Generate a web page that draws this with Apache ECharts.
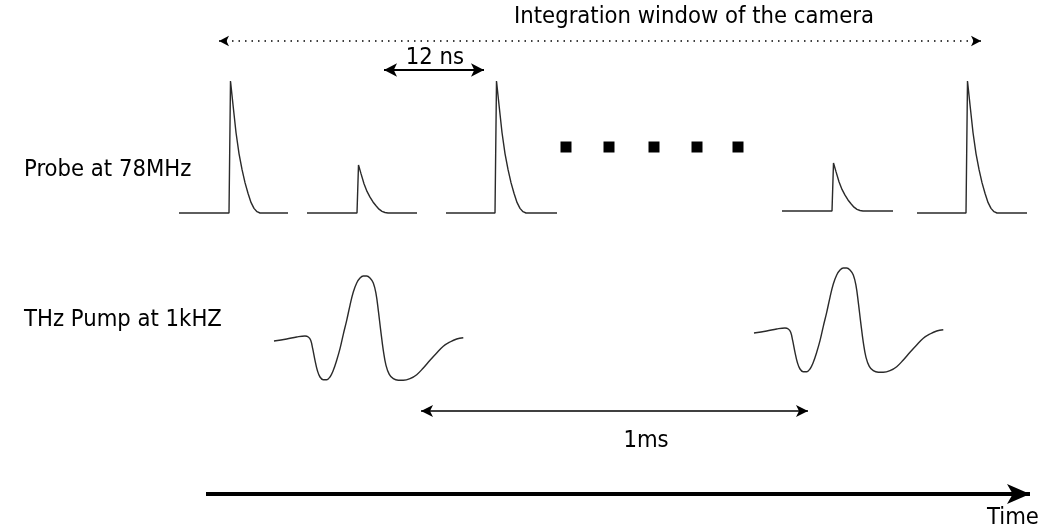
<!DOCTYPE html>
<html>
<head>
<meta charset="utf-8">
<script src="https://cdn.jsdelivr.net/npm/echarts@6/dist/echarts.min.js"></script>
<style>
html,body{margin:0;padding:0;background:#fff;}
#chart{width:1041px;height:531px;}
</style>
</head>
<body>
<div id="chart"></div>
<script>
// ---- data (diagram time units on x, amplitude units on y) ----
const probeRise  = [229, 357, 495, 832, 966];
const probeAmp   = [132, 48, 132, 48, 132];
const probeBase  = [318, 318, 318, 320, 318];
const probeFrom  = [179, 307, 446, 782, 917];
const probeTo    = [288, 417, 557, 893, 1027];
const pulseShape = [[0,0],[1.5,1],[4,0.82],[7,0.61],[10,0.45],[13,0.33],[16,0.23],[19,0.15],[22,0.08],[25,0.035],[28,0.01],[31,0]];

const pumpStart = [274, 754];
const pumpBase  = [190, 198];
const pumpShape = [[0,0],[12.7,2],[22.7,4],[31,5],[34.3,4],[36.7,0.7],[38.7,-7.7],[41,-19.3],[43.3,-29.3],[46,-36],[49.3,-38.7],[52.7,-38.7],[56,-36],[59.3,-29.3],[62.7,-19.3],[66,-7.7],[69.3,6.7],[72.7,20.7],[76,35.7],[79.3,49],[82.7,58],[86,63],[89.3,65],[92.7,65],[96,63],[99.3,58],[102,47.3],[104.3,30.7],[106.7,10.7],[109.3,-9.3],[112,-24.3],[115.3,-33.3],[119.3,-37.7],[124.3,-39.3],[129.3,-39.3],[136,-37.7],[142.7,-33.7],[149.3,-27],[156,-19.3],[162.7,-12],[169.3,-5.3],[176,-1],[182.7,2],[189.3,3.3]];

const dotTimes = [566, 609, 654, 697, 738];
const dotLevel = 384;

const labels = ['Integration window of the camera', '12 ns', 'Probe at 78MHz', 'THz Pump at 1kHZ', '1ms', 'Time'];

// ---- build ----
const INK = '#2a2a2a';
const series = [];
probeRise.forEach((r, i) => {
  const d = [[probeFrom[i], probeBase[i]], [r, probeBase[i]]];
  pulseShape.forEach(p => d.push([r + p[0], probeBase[i] + probeAmp[i] * p[1]]));
  d.push([probeTo[i], probeBase[i]]);
  series.push({type:'line', data:d, symbol:'none', silent:true, clip:false,
    lineStyle:{color:INK, width:1.4}});
});
pumpStart.forEach((s, i) => {
  series.push({type:'line', data:pumpShape.map(p => [s + p[0], pumpBase[i] + p[1]]),
    symbol:'none', smooth:0.4, silent:true, clip:false,
    lineStyle:{color:INK, width:1.4}});
});
series.push({type:'scatter', data:dotTimes.map(t => [t, dotLevel]), symbol:'rect',
  symbolSize:11, itemStyle:{color:'#000', opacity:1}, silent:true});

function arrowItem(a, b, s1, s2, size, lineStyle){
  return [{coord:a, symbol:s1, symbolSize:size, lineStyle:lineStyle},
          {coord:b, symbol:s2, symbolSize:size}];
}
series.push({
  type:'line', data:[], silent:true,
  markLine:{
    silent:true, animation:false, label:{show:false},
    data:[
      arrowItem([219,490],[981,490],'arrow','arrow',[8,10],
        {color:'#000',width:1.6,type:[1.5,5]}),
      arrowItem([384,461],[484,461],'arrow','arrow',[10,13],
        {color:'#000',width:2.2,type:'solid'}),
      arrowItem([421,120],[808,120],'arrow','arrow',[9,12],
        {color:'#000',width:1.5,type:'solid'}),
      arrowItem([206,37],[1030,37],'none','arrow',[15,23],
        {color:'#000',width:4,type:'solid'})
    ]
  }
});

const textPts = [
  [694, 514, labels[0], 'center'],
  [435, 473, labels[1], 'center'],
  [24, 361, labels[2], 'left'],
  [24, 211, labels[3], 'left'],
  [646, 90, labels[4], 'center'],
  [1013, 13, labels[5], 'center']
];
series.push({
  type:'scatter', symbolSize:0, silent:true, itemStyle:{opacity:1},
  data:textPts.map(t => ({value:[t[0], t[1]], name:t[2],
    label:{show:true, position:[0,0], align:t[3], verticalAlign:'middle',
      formatter:t[2], color:'#000', opacity:1,
      fontFamily:"'DejaVu Sans Condensed', 'DejaVu Sans'", fontSize:23.6}}))
});

const chart = echarts.init(document.getElementById('chart'));
chart.setOption({
  backgroundColor:'#fff',
  animation:false,
  grid:{left:0,right:0,top:0,bottom:0},
  xAxis:{type:'value', min:0, max:1041, show:false},
  yAxis:{type:'value', min:0, max:531, show:false},
  series:series
});
</script>
</body>
</html>
